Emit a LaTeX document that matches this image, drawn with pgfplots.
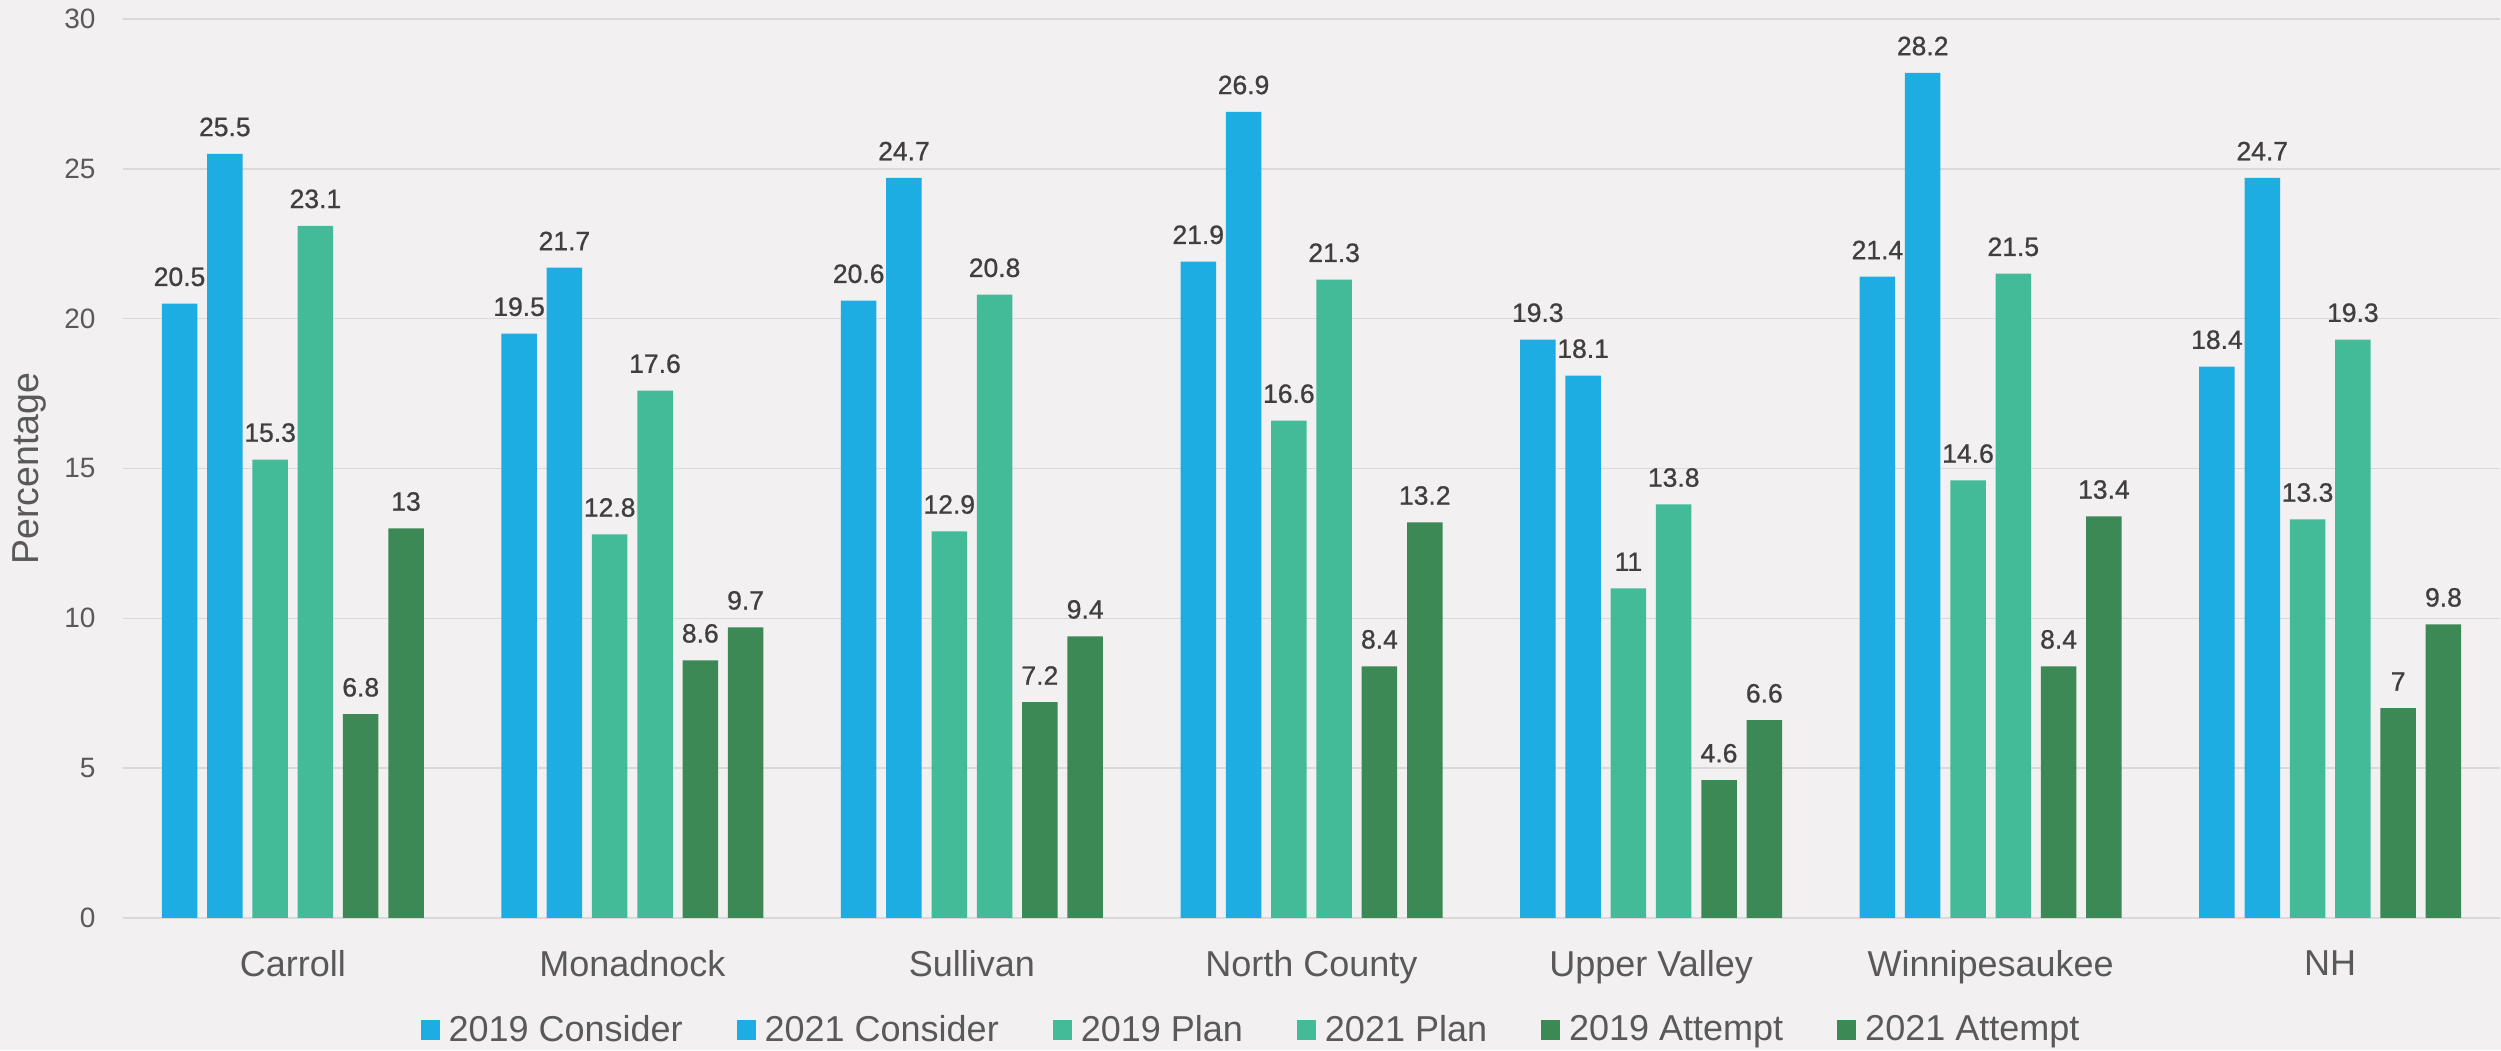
\documentclass[border=0pt]{standalone}
\usepackage{pgfplots}
\usepackage{pgfplotstable}
\pgfplotsset{compat=1.18}
\usepackage{fontspec}
\setmainfont{Liberation Sans}
\newfontfamily\lblfont[FakeBold=0.8]{Liberation Sans}

\definecolor{bg}{HTML}{F2F0F1}
\definecolor{consider}{HTML}{1EADE3}
\definecolor{plan}{HTML}{43BA98}
\definecolor{attempt}{HTML}{3C8955}
\definecolor{txt}{HTML}{595959}
\definecolor{lbl}{HTML}{3F3F3F}
\definecolor{gridc}{HTML}{D9D9D9}

% region index, then the six series
\pgfplotstableread{
idx c19 c21 p19 p21 a19 a21
0 20.5 25.5 15.3 23.1 6.8 13
1 19.5 21.7 12.8 17.6 8.6 9.7
2 20.6 24.7 12.9 20.8 7.2 9.4
3 21.9 26.9 16.6 21.3 8.4 13.2
4 19.3 18.1 11 13.8 4.6 6.6
5 21.4 28.2 14.6 21.5 8.4 13.4
6 18.4 24.7 13.3 19.3 7 9.8
}\data

\begin{document}
\begin{tikzpicture}
\fill[bg] (0,0) rectangle (1000.4pt,420pt);
\begin{axis}[
    at={(49.2pt,52.8pt)}, anchor=south west,
    scale only axis,
    width=950.8pt, height=359.6pt,
    ybar,
    bar width=0.1045,
    xmin=-0.5, xmax=6.5,
    ymin=0, ymax=30,
    xtick={0,...,6},
    xticklabels={Carroll, Monadnock, Sullivan, North County, Upper Valley, Winnipesaukee, NH},
    ytick={0,5,...,30},
    major tick length=0pt,
    axis line style={draw=none},
    ymajorgrids=true,
    grid style={gridc, line width=0.6pt},
    clip=false,
    /pgf/number format/assume math mode=true,
    yticklabel style={font=\fontsize{11.2}{13}\selectfont, text=txt, inner sep=0pt, anchor=east, xshift=-10.8pt},
    xticklabel style={font=\fontsize{14.4}{17}\selectfont, text=txt, inner sep=0pt, anchor=north, yshift=-12.8pt},
    every axis y label/.style={at={(axis description cs:-0.0395,0.5)}, rotate=90, anchor=center},
    ylabel={Percentage},
    ylabel style={font=\fontsize{15}{18}\selectfont, text=txt},
    nodes near coords,
    every node near coord/.append style={font=\lblfont\fontsize{10.6}{12}\selectfont, text=lbl, anchor=south, inner sep=0pt, yshift=6.8pt},
    every axis plot/.append style={draw=none,
        legend image code/.code={\fill[##1] (0pt,-4pt) rectangle (7.6pt,4pt);}},
    legend columns=6,
    legend style={at={(0.4741,-0.1246)}, anchor=center, draw=none, fill=none,
        font=\fontsize{14.4}{17}\selectfont, text=txt,
        nodes={inner xsep=0pt, inner ysep=1pt},
        /tikz/every odd column/.append style={column sep=3.6pt},
        /tikz/every even column/.append style={column sep=21.6pt}},
]
\addplot[fill=consider, bar shift=-0.3335] table[x=idx, y=c19] {\data};
\addplot[fill=consider, bar shift=-0.2001] table[x=idx, y=c21] {\data};
\addplot[fill=plan, bar shift=-0.0667] table[x=idx, y=p19] {\data};
\addplot[fill=plan, bar shift=0.0667] table[x=idx, y=p21] {\data};
\addplot[fill=attempt, bar shift=0.2001] table[x=idx, y=a19] {\data};
\addplot[fill=attempt, bar shift=0.3335] table[x=idx, y=a21] {\data};
\legend{2019 Consider, 2021 Consider, 2019 Plan, 2021 Plan, 2019 Attempt, 2021 Attempt}
\end{axis}
\pgfresetboundingbox
\useasboundingbox (0,0) rectangle (1000.4pt,420pt);
\end{tikzpicture}
\end{document}
